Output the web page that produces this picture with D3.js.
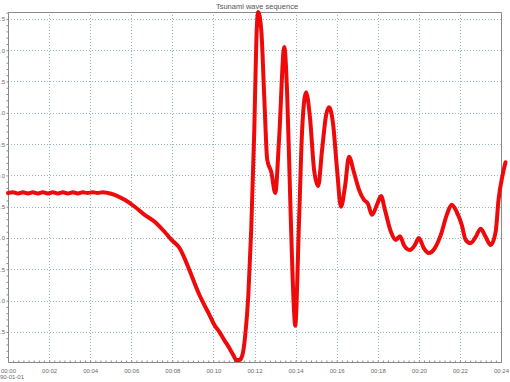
<!DOCTYPE html>
<head>
  <meta charset="utf-8">
  <script src="https://d3js.org/d3.v7.min.js"></script>
  <style>
    body { margin:0; padding:0; background:#fff; }
    svg { display:block; font-family:"Liberation Sans", Arial, sans-serif; }
    .grid line { stroke:#8fb9c6; stroke-width:1px; stroke-dasharray:1,2; }
    .frame { fill:none; stroke:#8a8a8a; stroke-width:1px; }
    .tick-label { fill:#6a6a6a; font-size:6px; }
    #wave { fill:none; stroke:#ee0a0a; stroke-width:4px; stroke-linejoin:round; stroke-linecap:round; }
  </style>
</head>

<body>
  <script>
    var width = 510, height = 382;
    var margin = {top:12, right:7, bottom:20, left:8};

    // wave record, minutes after 00:00 and level
    var minutes = [0.00, 0.24, 0.49, 0.73, 0.97, 1.21, 1.46, 1.70, 1.94, 2.18, 2.43, 2.67, 2.91,
      3.16, 3.40, 3.64, 3.88, 4.13, 4.37, 4.61, 4.85, 5.19, 5.68, 6.17, 6.65, 7.14, 7.62, 7.96,
      8.35, 8.59, 8.83, 9.08, 9.32, 9.56, 9.81, 10.05, 10.29, 10.53, 10.78, 10.97, 11.12, 11.26,
      11.41, 11.55, 11.70, 11.84, 11.99, 12.09, 12.18, 12.33, 12.48, 12.62, 12.82, 13.01, 13.20,
      13.45, 13.59, 13.74, 13.93, 13.98, 14.17, 14.32, 14.51, 14.71, 14.90, 15.10, 15.29, 15.49,
      15.63, 15.83, 16.02, 16.21, 16.41, 16.60, 16.84, 17.09, 17.33, 17.52, 17.72, 17.96, 18.16,
      18.35, 18.64, 18.88, 19.08, 19.27, 19.56, 19.81, 20.00, 20.24, 20.49, 20.78, 21.07, 21.36,
      21.60, 21.84, 22.09, 22.28, 22.52, 22.77, 23.01, 23.25, 23.50, 23.74, 23.88, 24.08, 24.22];
    var levels = [-0.28, -0.27, -0.29, -0.27, -0.29, -0.27, -0.29, -0.27, -0.29, -0.27, -0.29,
      -0.27, -0.29, -0.27, -0.29, -0.27, -0.28, -0.27, -0.28, -0.27, -0.28, -0.31, -0.39, -0.50,
      -0.63, -0.74, -0.90, -1.03, -1.16, -1.32, -1.51, -1.72, -1.91, -2.07, -2.23, -2.39, -2.50,
      -2.63, -2.76, -2.87, -2.95, -2.95, -2.87, -2.55, -1.91, -0.87, 0.73, 2.16, 2.61, 2.32,
      1.21, 0.25, 0.05, -0.28, 0.60, 2.05, 1.30, -0.39, -2.20, -2.40, -0.71, 0.73, 1.33, 0.89,
      0.09, -0.17, 0.41, 0.97, 1.09, 0.81, 0.09, -0.50, -0.17, 0.30, 0.05, -0.23, -0.39, -0.45,
      -0.63, -0.47, -0.33, -0.55, -0.90, -1.03, -0.97, -1.11, -1.19, -1.11, -1.00, -1.16, -1.24,
      -1.16, -0.95, -0.63, -0.47, -0.58, -0.79, -1.03, -1.08, -0.98, -0.85, -0.98, -1.11, -0.90,
      -0.39, 0.01, 0.21];

    var yTicks = [2.5, 2.0, 1.5, 1.0, 0.5, 0.0, -0.5, -1.0, -1.5, -2.0, -2.5];
    var xTicks = [0, 2, 4, 6, 8, 10, 12, 14, 16, 18, 20, 22, 24];
    var xTickLabels = ["00:00", "00:02", "00:04", "00:06", "00:08", "00:10", "00:12",
      "00:14", "00:16", "00:18", "00:20", "00:22", "00:24"];
    var dateLabel = "90-01-01";
    var title = "Tsunami wave sequence";

    var data = minutes.map(function(m, i) { return {t: m, v: levels[i]}; });

    var svg = d3.select("body").append("svg")
      .attr("width", width).attr("height", height);

    var x = d3.scaleLinear().domain([0, 24])
      .range([margin.left, width - margin.right - 2]);
    var y = d3.scaleLinear().domain([-2.98, 2.61])
      .range([height - margin.bottom, margin.top]);

    // grid
    var grid = svg.append("g").attr("class", "grid");
    grid.selectAll(".h").data(yTicks).enter().append("line")
      .attr("x1", x(0)).attr("x2", x(24))
      .attr("y1", function(d) { return Math.round(y(d)) + 0.5; })
      .attr("y2", function(d) { return Math.round(y(d)) + 0.5; });
    grid.selectAll(".v").data(xTicks.slice(1, -1)).enter().append("line")
      .attr("y1", y.range()[1]).attr("y2", y.range()[0])
      .attr("x1", function(d) { return Math.round(x(d)) + 0.5; })
      .attr("x2", function(d) { return Math.round(x(d)) + 0.5; });

    // frame
    svg.append("path").attr("class", "frame")
      .attr("d", "M" + (x(0) + 0.5) + "," + (y.range()[0] + 0.5) +
        "V" + (y.range()[1] + 0.5) + "H" + (Math.round(x(24)) + 0.5) +
        "V" + (y.range()[0] + 0.5) + "Z");

    // bottom axis, minor ticks every 15 s
    var xAxis = d3.axisBottom(x).tickValues(xTicks).tickSize(3)
      .tickFormat(function(d, i) { return xTickLabels[i]; });
    var gx = svg.append("g").attr("transform", "translate(0," + (y.range()[0] + 0.5) + ")");
    gx.call(d3.axisTop(x).tickValues(d3.range(0, 24.01, 0.25)).tickSize(2).tickFormat(""));
    gx.selectAll("path").remove();
    gx.selectAll("line").attr("stroke", "#8a8a8a");
    var gx2 = svg.append("g").attr("transform", "translate(0," + (y.range()[0] + 3.5) + ")")
      .call(xAxis.tickSize(0).tickPadding(3));
    gx2.selectAll("path").remove();
    gx2.selectAll("text").attr("class", "tick-label").attr("font-size", null).attr("font-family", null);
    svg.append("text").attr("class", "tick-label")
      .attr("x", 0).attr("y", 379).text(dateLabel);

    // left axis, minor ticks every 0.1
    var gy = svg.append("g").attr("transform", "translate(" + (x(0) + 0.5) + ",0)");
    gy.call(d3.axisLeft(y).tickValues(d3.range(-2.9, 2.61, 0.1)).tickSize(2).tickFormat(""));
    gy.selectAll("path").remove();
    gy.selectAll("line").attr("stroke", "#8a8a8a");
    var gy2 = svg.append("g").attr("transform", "translate(" + (x(0) + 0.5) + ",0)")
      .call(d3.axisLeft(y).tickValues(yTicks).tickSize(0).tickPadding(3.5)
        .tickFormat(d3.format(".1f")));
    gy2.selectAll("path").remove();
    gy2.selectAll("text").attr("class", "tick-label").attr("font-size", null).attr("font-family", null);

    // title
    svg.append("text").attr("x", 257).attr("y", 9)
      .attr("text-anchor", "middle").attr("fill", "#555").attr("font-size", "7.5px")
      .text(title);

    // wave
    var line = d3.line()
      .x(function(d) { return x(d.t); })
      .y(function(d) { return y(d.v); })
      .curve(d3.curveMonotoneX);
    svg.append("path").datum(data).attr("id", "wave").attr("d", line);
  </script>
</body>
